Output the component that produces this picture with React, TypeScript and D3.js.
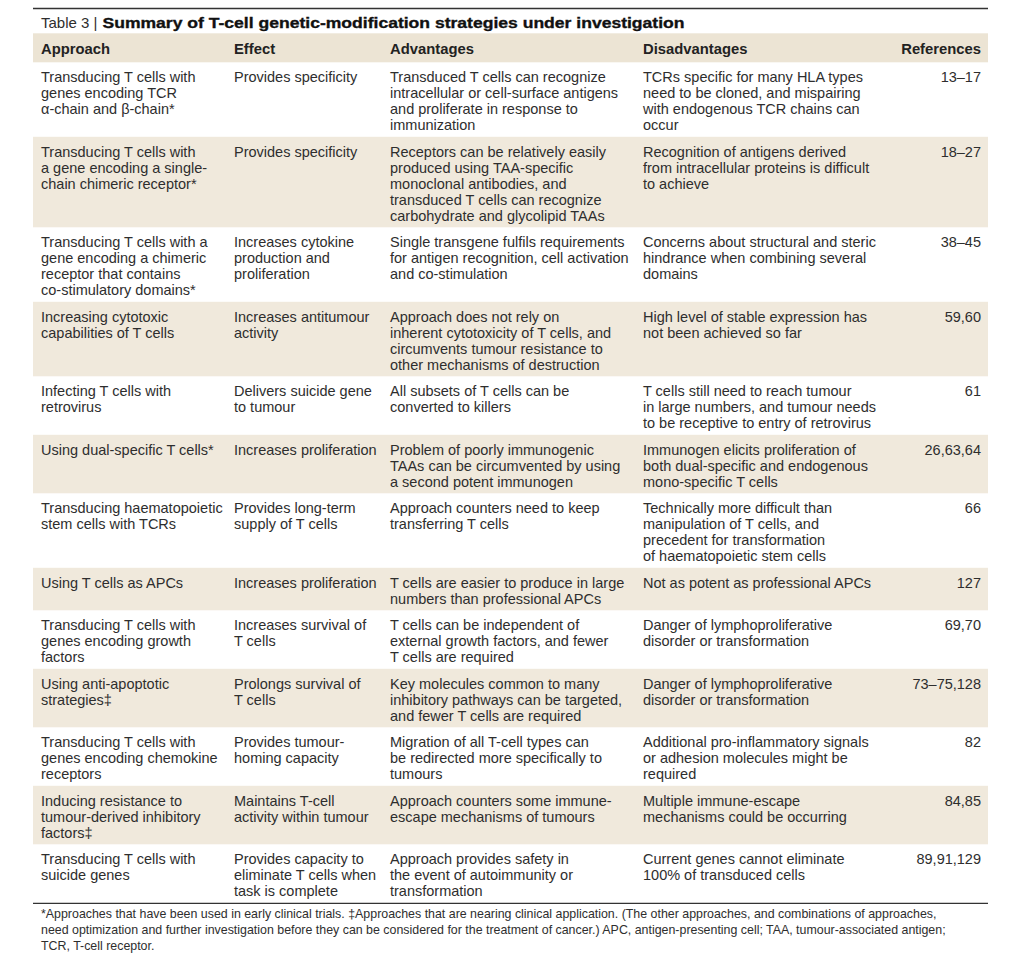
import React from "react";
import * as d3 from "d3";

const titleLabel = "Table 3 | ";
const titleBold = "Summary of T-cell genetic-modification strategies under investigation";
const headers = ["Approach", "Effect", "Advantages", "Disadvantages", "References"];

const approach: string[][] = [
  ["Transducing T cells with", "genes encoding TCR", "α-chain and β-chain*"],
  ["Transducing T cells with", "a gene encoding a single-", "chain chimeric receptor*"],
  ["Transducing T cells with a", "gene encoding a chimeric", "receptor that contains", "co-stimulatory domains*"],
  ["Increasing cytotoxic", "capabilities of T cells"],
  ["Infecting T cells with", "retrovirus"],
  ["Using dual-specific T cells*"],
  ["Transducing haematopoietic", "stem cells with TCRs"],
  ["Using T cells as APCs"],
  ["Transducing T cells with", "genes encoding growth", "factors"],
  ["Using anti-apoptotic", "strategies‡"],
  ["Transducing T cells with", "genes encoding chemokine", "receptors"],
  ["Inducing resistance to", "tumour-derived inhibitory", "factors‡"],
  ["Transducing T cells with", "suicide genes"],
];

const effect: string[][] = [
  ["Provides specificity"],
  ["Provides specificity"],
  ["Increases cytokine", "production and", "proliferation"],
  ["Increases antitumour", "activity"],
  ["Delivers suicide gene", "to tumour"],
  ["Increases proliferation"],
  ["Provides long-term", "supply of T cells"],
  ["Increases proliferation"],
  ["Increases survival of", "T cells"],
  ["Prolongs survival of", "T cells"],
  ["Provides tumour-", "homing capacity"],
  ["Maintains T-cell", "activity within tumour"],
  ["Provides capacity to", "eliminate T cells when", "task is complete"],
];

const advantages: string[][] = [
  ["Transduced T cells can recognize", "intracellular or cell-surface antigens", "and proliferate in response to", "immunization"],
  ["Receptors can be relatively easily", "produced using TAA-specific", "monoclonal antibodies, and", "transduced T cells can recognize", "carbohydrate and glycolipid TAAs"],
  ["Single transgene fulfils requirements", "for antigen recognition, cell activation", "and co-stimulation"],
  ["Approach does not rely on", "inherent cytotoxicity of T cells, and", "circumvents tumour resistance to", "other mechanisms of destruction"],
  ["All subsets of T cells can be", "converted to killers"],
  ["Problem of poorly immunogenic", "TAAs can be circumvented by using", "a second potent immunogen"],
  ["Approach counters need to keep", "transferring T cells"],
  ["T cells are easier to produce in large", "numbers than professional APCs"],
  ["T cells can be independent of", "external growth factors, and fewer", "T cells are required"],
  ["Key molecules common to many", "inhibitory pathways can be targeted,", "and fewer T cells are required"],
  ["Migration of all T-cell types can", "be redirected more specifically to", "tumours"],
  ["Approach counters some immune-", "escape mechanisms of tumours"],
  ["Approach provides safety in", "the event of autoimmunity or", "transformation"],
];

const disadvantages: string[][] = [
  ["TCRs specific for many HLA types", "need to be cloned, and mispairing", "with endogenous TCR chains can", "occur"],
  ["Recognition of antigens derived", "from intracellular proteins is difficult", "to achieve"],
  ["Concerns about structural and steric", "hindrance when combining several", "domains"],
  ["High level of stable expression has", "not been achieved so far"],
  ["T cells still need to reach tumour", "in large numbers, and tumour needs", "to be receptive to entry of retrovirus"],
  ["Immunogen elicits proliferation of", "both dual-specific and endogenous", "mono-specific T cells"],
  ["Technically more difficult than", "manipulation of T cells, and", "precedent for transformation", "of haematopoietic stem cells"],
  ["Not as potent as professional APCs"],
  ["Danger of lymphoproliferative", "disorder or transformation"],
  ["Danger of lymphoproliferative", "disorder or transformation"],
  ["Additional pro-inflammatory signals", "or adhesion molecules might be", "required"],
  ["Multiple immune-escape", "mechanisms could be occurring"],
  ["Current genes cannot eliminate", "100% of transduced cells"],
];

const references: string[] = [
  "13–17", "18–27", "38–45", "59,60", "61", "26,63,64", "66", "127", "69,70", "73–75,128", "82", "84,85", "89,91,129",
];

const footnotes: string[] = [
  "*Approaches that have been used in early clinical trials. ‡Approaches that are nearing clinical application. (The other approaches, and combinations of approaches,",
  "need optimization and further investigation before they can be considered for the treatment of cancer.) APC, antigen-presenting cell; TAA, tumour-associated antigen;",
  "TCR, T-cell receptor.",
];

const W = 1024;
const H = 969;
const LEFT = 33;
const RIGHT = 988;
const LINE = 16;
const PAD = 10.5;
const TABLE_TOP = 62.3;
const FONT = "'Liberation Sans', Arial, Helvetica, sans-serif";
const TEXT = "#2e2e2e";
const SHADE = "#f0e9dc";
const HEAD_SHADE = "#ece4d4";
const TITLE_BOLD_X = 102.5;
const TITLE_BOLD_W = 582;

const colX = d3.scaleOrdinal<string, number>().domain(headers).range([41, 234, 390, 643, 981]);

export default function App() {
  const nLines = approach.map((_, i) =>
    Math.max(approach[i].length, effect[i].length, advantages[i].length, disadvantages[i].length, 1)
  );
  const heights = nLines.map((n) => n * LINE + PAD);
  const tops = [0, ...Array.from(d3.cumsum(heights))].map((v) => TABLE_TOP + v);
  const tableBottom = tops[tops.length - 1];

  const cols = [approach, effect, advantages, disadvantages];

  return (
    <svg
      width={W}
      height={H}
      style={{ position: "absolute", left: 0, top: 0, background: "#fff" }}
      fontFamily={FONT}
    >
      <rect x={0} y={0} width={W} height={H} fill="#fff" />
      {/* top rule */}
      <line x1={LEFT} x2={RIGHT} y1={8.5} y2={8.5} stroke="#333" strokeWidth={1.3} />
      {/* title */}
      <text x={41} y={27.5} fill={TEXT} fontSize={15}>
        {titleLabel}
      </text>
      <text
        x={TITLE_BOLD_X}
        y={27.5}
        fill="#111"
        fontSize={15}
        fontWeight="bold"
        textLength={TITLE_BOLD_W}
        lengthAdjust="spacingAndGlyphs"
        stroke="#111"
        strokeWidth={0.35}
      >
        {titleBold}
      </text>
      {/* header band */}
      <rect x={LEFT} y={33.3} width={RIGHT - LEFT} height={TABLE_TOP - 33.3} fill={HEAD_SHADE} />
      {headers.map((h, j) => (
        <text
          key={h}
          x={colX(h)}
          y={54}
          fontSize={14.8}
          fontWeight="bold"
          fill="#222"
          textAnchor={j === 4 ? "end" : "start"}
        >
          {h}
        </text>
      ))}
      {/* rows */}
      {heights.map((h, i) => (
        <g key={i}>
          {i % 2 === 1 && <rect x={LEFT} y={tops[i]} width={RIGHT - LEFT} height={h} fill={SHADE} />}
          {cols.map((col, j) =>
            col[i].map((line, k) => (
              <text key={`${j}-${k}`} x={colX(headers[j])} y={tops[i] + 19.8 + k * LINE} fontSize={14.5} fill={TEXT}>
                {line}
              </text>
            ))
          )}
          <text x={colX(headers[4])} y={tops[i] + 19.8} fontSize={14.5} fill={TEXT} textAnchor="end">
            {references[i]}
          </text>
        </g>
      ))}
      {/* bottom rule */}
      <line x1={LEFT} x2={RIGHT} y1={tableBottom + 0.5} y2={tableBottom + 0.5} stroke="#333" strokeWidth={1.3} />
      {footnotes.map((f, i) => (
        <text key={i} x={41} y={tableBottom + 15.5 + i * LINE} fontSize={12.4} fill={TEXT}>
          {f}
        </text>
      ))}
    </svg>
  );
}
